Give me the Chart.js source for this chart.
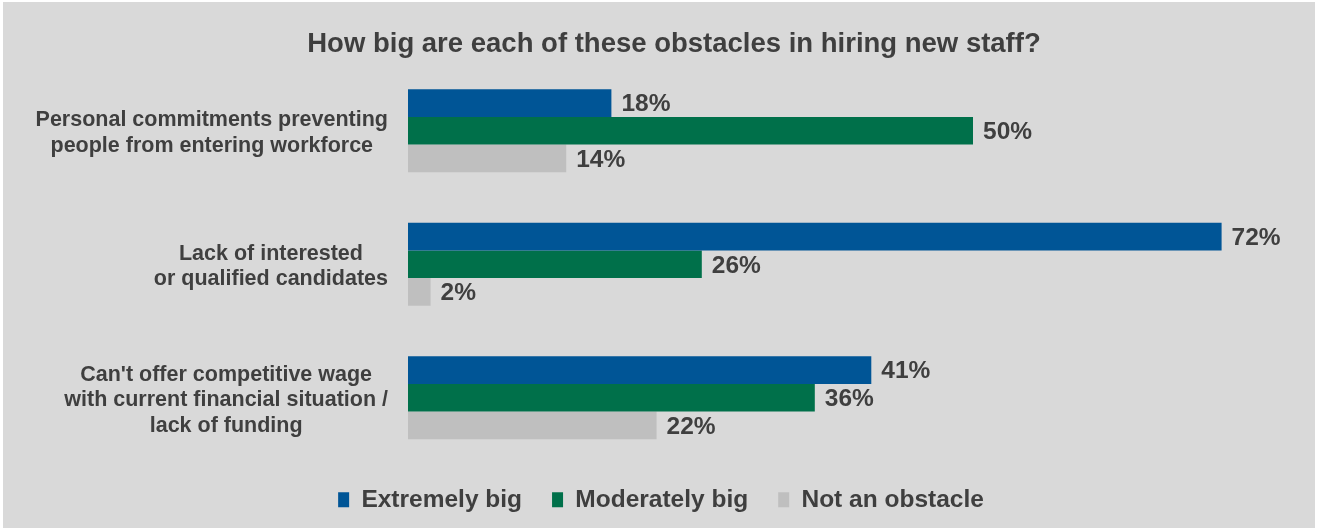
<!DOCTYPE html>
<html>
<head>
<meta charset="utf-8">
<script src="https://cdn.jsdelivr.net/npm/chart.js@4/dist/chart.umd.min.js"></script>
<style>
  html, body { margin: 0; padding: 0; background: #ffffff; }
  #wrap { position: relative; width: 1319px; height: 529px; }
</style>
</head>
<body>
<div id="wrap"><canvas id="c" width="1319" height="529"></canvas></div>
<script>
const categories = [
  ["Personal commitments preventing", "people from entering workforce"],
  ["Lack of interested", "or qualified candidates"],
  ["Can't offer competitive wage", "with current financial situation /", "lack of funding"]
];
const seriesNames = ["Extremely big", "Moderately big", "Not an obstacle"];
const extremelyBig = [18, 72, 41];
const moderatelyBig = [50, 26, 36];
const notAnObstacle = [14, 2, 22];
const titleText = "How big are each of these obstacles in hiring new staff?";

const colors = ["#005596", "#00704a", "#bfbfbf"];
const textColor = "#3f3f3f";
const fontFamily = "'Liberation Sans', Arial, sans-serif";

const bgPlugin = {
  id: 'bg',
  beforeDraw(chart) {
    const ctx = chart.ctx;
    ctx.save();
    ctx.fillStyle = '#ffffff';
    ctx.fillRect(0, 0, chart.width, chart.height);
    ctx.fillStyle = '#d9d9d9';
    ctx.fillRect(3, 2, 1312, 526);
    ctx.restore();
  }
};

const shiftPlugin = {
  id: 'shiftBlocks',
  afterLayout(chart) {
    if (chart.legend) {
      chart.legend.top -= 7;
      chart.legend.bottom -= 7;
    }
    if (chart.titleBlock) {
      chart.titleBlock.left += 26;
    }
  }
};

const catLabelPlugin = {
  id: 'catLabels',
  afterDraw(chart) {
    const ctx = chart.ctx;
    const y = chart.scales.y;
    ctx.save();
    ctx.font = "bold 21.5px " + fontFamily;
    ctx.fillStyle = textColor;
    ctx.textAlign = 'center';
    ctx.textBaseline = 'middle';
    const rightEdge = chart.chartArea.left - 20;
    const lh = 25.5;
    categories.forEach((lines, i) => {
      const cy = y.getPixelForValue(i) + 2.5;
      let maxW = 0;
      lines.forEach(l => { maxW = Math.max(maxW, ctx.measureText(l).width); });
      const cx = rightEdge - maxW / 2;
      const top = cy - (lines.length - 1) * lh / 2;
      lines.forEach((l, k) => ctx.fillText(l, cx, top + k * lh));
    });
    ctx.restore();
  }
};

const valueLabelPlugin = {
  id: 'valueLabels',
  afterDatasetsDraw(chart) {
    const ctx = chart.ctx;
    ctx.save();
    ctx.font = "bold 24.5px " + fontFamily;
    ctx.fillStyle = textColor;
    ctx.textAlign = 'left';
    ctx.textBaseline = 'middle';
    chart.data.datasets.forEach((ds, di) => {
      const meta = chart.getDatasetMeta(di);
      meta.data.forEach((bar, i) => {
        ctx.fillText(ds.data[i] + '%', bar.x + 10, bar.y + 1.5);
      });
    });
    ctx.restore();
  }
};

new Chart(document.getElementById('c'), {
  type: 'bar',
  data: {
    labels: categories,
    datasets: [
      { label: seriesNames[0], data: extremelyBig, backgroundColor: colors[0] },
      { label: seriesNames[1], data: moderatelyBig, backgroundColor: colors[1] },
      { label: seriesNames[2], data: notAnObstacle, backgroundColor: colors[2] }
    ]
  },
  options: {
    indexAxis: 'y',
    responsive: false,
    animation: false,
    devicePixelRatio: 1,
    layout: { padding: { left: 10, right: 7, top: 0, bottom: 0 } },
    datasets: { bar: { categoryPercentage: 0.62, barPercentage: 1.0 } },
    scales: {
      x: { display: false, min: 0, max: 80 },
      y: {
        display: true,
        grid: { display: false },
        border: { display: false },
        ticks: { display: false },
        afterFit(scale) { scale.width = 398; }
      }
    },
    plugins: {
      tooltip: { enabled: false },
      title: {
        display: true,
        text: titleText,
        color: textColor,
        font: { family: fontFamily, size: 27.5, weight: 'bold' },
        padding: { top: 27.5, bottom: 3.5 }
      },
      legend: {
        position: 'bottom',
        labels: {
          color: textColor,
          font: { family: fontFamily, size: 24.5, weight: 'bold' },
          boxWidth: 11,
          boxHeight: 15,
          padding: 30
        }
      }
    }
  },
  plugins: [bgPlugin, shiftPlugin, catLabelPlugin, valueLabelPlugin]
});
</script>
</body>
</html>
